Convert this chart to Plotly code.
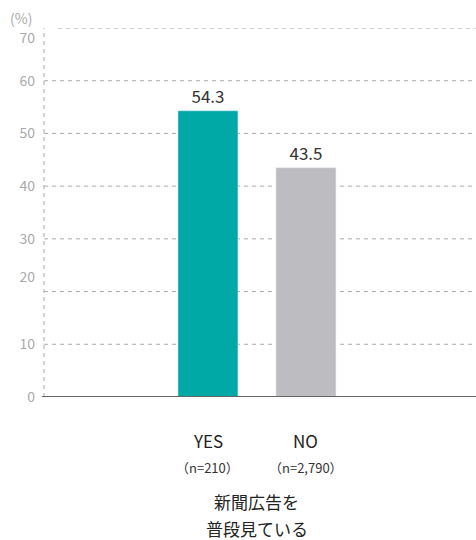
import plotly.graph_objects as go

categories = ["YES", "NO"]
values = [54.3, 43.5]
sample_sizes = ["（n=210）", "（n=2,790）"]
bar_colors = ["#00A9A6", "#BDBDC1"]
grid_values = [10, 20, 30, 40, 50, 60, 70]
tick_text = ["0", "10", "20", "30", "40", "50", "60", "70"]
tick_label_pos = [0, 10, 22.8, 30, 40, 50, 60, 68.1]
group_title = ["新聞広告を", "普段見ている"]

FONT = "Noto Sans CJK JP"

fig = go.Figure()
fig.add_trace(go.Bar(
    x=categories, y=values, marker_color=bar_colors, width=0.612,
    texttemplate="%{y:.1f}", textposition="outside", cliponaxis=False,
    textfont=dict(family=FONT, size=17, color="#333333"),
))

shapes = []
for g in grid_values:
    shapes.append(dict(type="line", xref="paper", yref="y",
                       x0=0.032 if g == 70 else 0, x1=1, y0=g, y1=g,
                       line=dict(color="#AAAAAA", width=1, dash="4px,4px"), layer="below"))
shapes.append(dict(type="line", xref="paper", yref="y", x0=0, x1=0, y0=0, y1=70,
                   line=dict(color="#AAAAAA", width=1, dash="4px,4px"), layer="below"))
shapes.append(dict(type="line", xref="paper", yref="y", x0=-0.005, x1=1, y0=0, y1=0,
                   line=dict(color="#666666", width=2)))

annotations = []
for c, n in zip(categories, sample_sizes):
    annotations.append(dict(x=c, y=0, xref="x", yref="y", text=c, showarrow=False,
                            yanchor="middle", yshift=-43,
                            font=dict(family=FONT, size=17, color="#222222")))
    annotations.append(dict(x=c, y=0, xref="x", yref="y", text=n, showarrow=False,
                            yanchor="middle", yshift=-70,
                            font=dict(family=FONT, size=13, color="#333333")))
for i, t in enumerate(group_title):
    annotations.append(dict(x=0.5, y=0, xref="x", yref="y", text=t, showarrow=False,
                            yanchor="middle", yshift=-104 - 27 * i,
                            font=dict(family=FONT, size=17, color="#222222")))
annotations.append(dict(x=0, y=70, xref="paper", yref="y", text="(%)", showarrow=False,
                        xanchor="right", yanchor="middle", xshift=-10, yshift=10,
                        font=dict(family=FONT, size=14, color="#AAAAAA")))

fig.update_layout(
    width=476, height=540, margin=dict(l=44, r=0, t=28, b=143),
    paper_bgcolor="white", plot_bgcolor="white", showlegend=False,
    shapes=shapes, annotations=annotations,
    xaxis=dict(range=[-1.673, 2.735], showticklabels=False, showgrid=False,
               zeroline=False, showline=False, ticks=""),
    yaxis=dict(range=[0, 70], tickvals=tick_label_pos, ticktext=tick_text,
               showgrid=False, zeroline=False, showline=False, ticks="",
               ticklabelstandoff=8,
               tickfont=dict(family=FONT, size=14, color="#AAAAAA")),
)

fig.write_html("out.html")
